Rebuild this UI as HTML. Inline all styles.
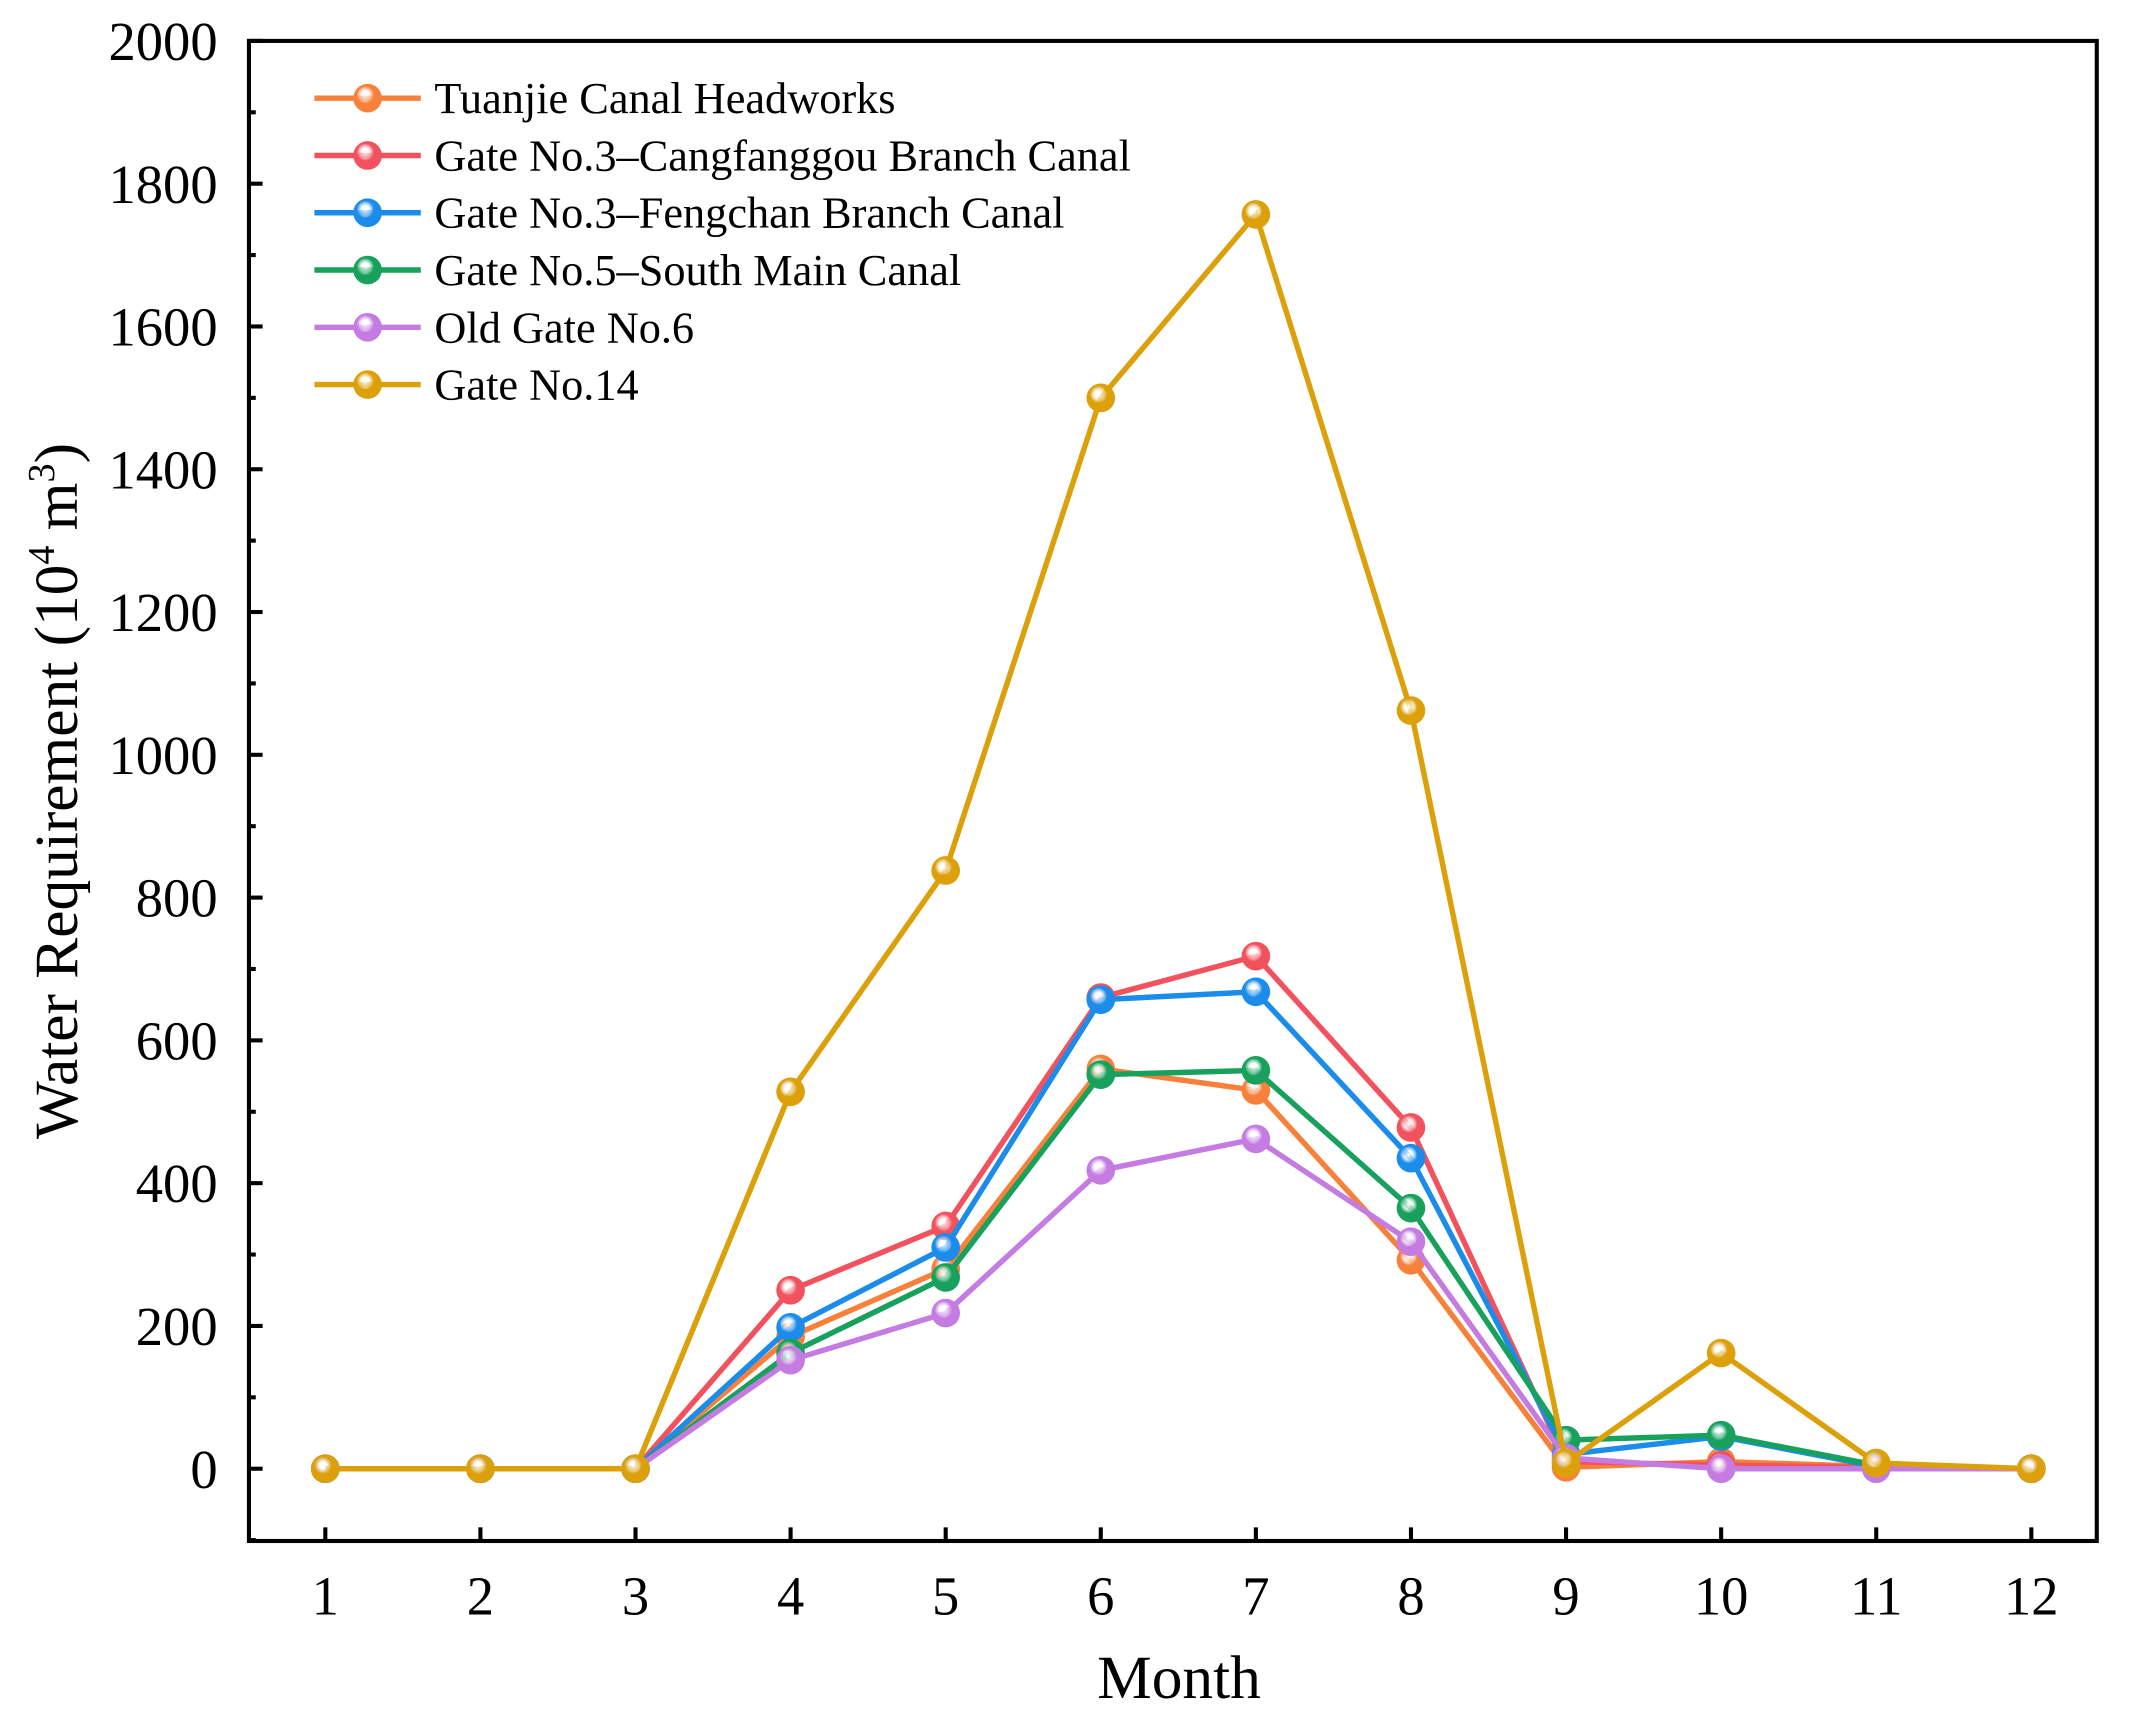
<!DOCTYPE html>
<html><head><meta charset="utf-8"><style>
html,body{margin:0;padding:0;background:#fff}
svg{display:block}
text{font-family:"Liberation Serif",serif;fill:#000}
</style></head><body>
<svg id="chart" width="2133" height="1721" viewBox="0 0 1563 1262" xmlns="http://www.w3.org/2000/svg">
<defs id="defs"></defs>
<g id="axes"></g>
<g id="series"></g>
<g id="legend"></g>
<text x="864" y="1245" font-size="45" text-anchor="middle">Month</text>
<text transform="translate(56,580) rotate(-90)" font-size="45" text-anchor="middle">Water Requirement (10<tspan font-size="28" dy="-17">4</tspan><tspan dy="17"> m</tspan><tspan font-size="28" dy="-17">3</tspan><tspan dy="17">)</tspan></text>
</svg>
<script>
const months=[1,2,3,4,5,6,7,8,9,10,11,12];
const yTicks=[0,200,400,600,800,1000,1200,1400,1600,1800,2000];
const names=["Tuanjie Canal Headworks","Gate No.3\u2013Cangfanggou Branch Canal","Gate No.3\u2013Fengchan Branch Canal","Gate No.5\u2013South Main Canal","Old Gate No.6","Gate No.14"];
const colors=["#F7803A","#F2525E","#1C8CEB","#17A15C","#C47BE2","#DBA00A"];
const tuanjie=[0,0,0,185,280,560,530,292,2,10,3,0];
const cangfanggou=[0,0,0,250,340,660,718,478,10,5,2,0];
const fengchan=[0,0,0,198,310,657,668,435,20,45,3,0];
const southMain=[0,0,0,162,268,552,558,365,40,47,5,0];
const oldGate6=[0,0,0,152,218,418,462,318,15,0,0,0];
const gate14=[0,0,0,528,838,1500,1757,1062,8,162,8,0];
const seriesData=[tuanjie,cangfanggou,fengchan,southMain,oldGate6,gate14];
const NS="http://www.w3.org/2000/svg";
const L=182,R=1537,T=30,B=1130;
const xs=m=>238+(m-1)*(1489-238)/11;
const ys=v=>1077-v*(1077-30)/2000;
function mk(t,a,p){const e=document.createElementNS(NS,t);for(const k in a)e.setAttribute(k,a[k]);p.appendChild(e);return e;}
const defs=document.getElementById('defs');
colors.forEach((c,i)=>{const g=mk('radialGradient',{id:'g'+i,cx:'0.42',cy:'0.38',r:'0.6'},defs);
mk('stop',{offset:'0',"stop-color":'#fff'},g);mk('stop',{offset:'0.2',"stop-color":'#fff',"stop-opacity":'0.6'},g);mk('stop',{offset:'0.5',"stop-color":c},g);mk('stop',{offset:'1',"stop-color":c},g);});
const ax=document.getElementById('axes');
const frame=mk('rect',{x:L,y:T,width:R-L,height:B-T,fill:'none',stroke:'#000','stroke-width':3},ax);

yTicks.forEach((v,i)=>{const y=ys(v);
const t=mk('line',{x1:L,x2:L+10,y1:y,y2:y,stroke:'#000','stroke-width':3},ax);

if(i<yTicks.length-1){const y2=ys(v+100);const mt=mk('line',{x1:L,x2:L+5,y1:y2,y2:y2,stroke:'#000','stroke-width':3},ax);
}
const lb=mk('text',{x:L-23,y:y+14,'font-size':40,'text-anchor':'end'},ax);lb.textContent=v;
});
{const y2=ys(-100);const mt=mk('line',{x1:L,x2:L+5,y1:y2,y2:y2,stroke:'#000','stroke-width':3},ax);
}
months.forEach(m=>{const x=xs(m);
const t=mk('line',{x1:x,x2:x,y1:B,y2:B-10,stroke:'#000','stroke-width':3},ax);

const lb=mk('text',{x:x,y:B+54,'font-size':40,'text-anchor':'middle'},ax);lb.textContent=m;
});
const sg=document.getElementById('series');
seriesData.forEach((d,i)=>{const g=mk('g',{},sg);

const pl=mk('polyline',{points:d.map((v,j)=>xs(months[j])+','+ys(v)).join(' '),fill:'none',stroke:colors[i],'stroke-width':4},g);

d.forEach((v,j)=>{const c=mk('circle',{cx:xs(months[j]),cy:ys(v),r:10.5,fill:'url(#g'+i+')'},g);
});});
const lg=document.getElementById('legend');
names.forEach((n,i)=>{const y=72+i*42;const g=mk('g',{},lg);

mk('line',{x1:230,x2:308,y1:y,y2:y,stroke:colors[i],'stroke-width':4},g);
mk('circle',{cx:269,cy:y,r:10.5,fill:'url(#g'+i+')'},g);
const t=mk('text',{x:318,y:y+11,'font-size':32.5},g);t.textContent=n;});
</script>
</body></html>
